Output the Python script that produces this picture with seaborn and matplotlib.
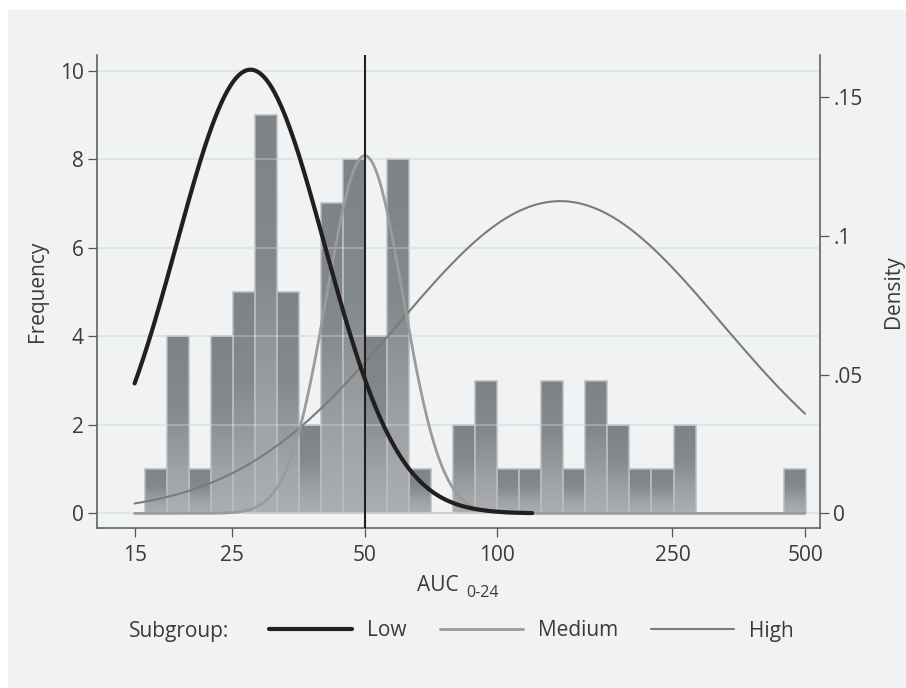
import numpy as np
import pandas as pd
import matplotlib
matplotlib.use("Agg")
import matplotlib.pyplot as plt
import seaborn as sns
from matplotlib.colors import LinearSegmentedColormap
from matplotlib.lines import Line2D
from matplotlib.patches import Rectangle

# ---- data -------------------------------------------------------------
# histogram of AUC(0-24): 30 equal-width bins on the log scale
bin_lo, bin_hi = 15.8, 502.0
counts = [1, 4, 1, 4, 5, 9, 5, 2, 7, 8, 4, 8, 1, 0, 2,
          3, 1, 1, 3, 1, 3, 2, 1, 1, 2, 0, 0, 0, 0, 1]

# fitted normal densities of log AUC per subgroup
subgroups = ["Low", "Medium", "High"]
centers = [27.5, 50.0, 139.0]          # geometric means
log_sd = [0.168, 0.087, 0.368]         # SD of log10(AUC)
peak_density = [0.160, 0.129, 0.1126]  # height of each curve
curve_from = [15, 15, 15]
curve_to = [120, 500, 500]

x_ticks = [15, 25, 50, 100, 250, 500]
freq_ticks = [0, 2, 4, 6, 8, 10]
dens_ticks = [0, 0.05, 0.10, 0.15]
dens_labels = ["0", ".05", ".1", ".15"]
cutoff = 50

# ---- style ------------------------------------------------------------
PANEL = "#f1f2f4"
TEXT = "#3a3a3a"
SPINE = "#555555"
line_colors = {"Low": "#231f20", "Medium": "#9b9b9b", "High": "#7b7b7b"}
line_widths = {"Low": 3.0, "Medium": 2.0, "High": 1.5}

sns.set_theme(style="white")
plt.rcParams["font.family"] = ["Open Sans", "DejaVu Sans"]
plt.rcParams["text.color"] = TEXT
plt.rcParams["axes.labelcolor"] = TEXT
plt.rcParams["xtick.color"] = SPINE
plt.rcParams["ytick.color"] = SPINE

W, H = 906, 688
fig = plt.figure(figsize=(W / 100, H / 100), dpi=100, facecolor="white")
fig.patches.append(Rectangle((8 / W, 0), 1 - 8 / W, 1 - 10 / H,
                             transform=fig.transFigure, facecolor=PANEL,
                             edgecolor="none", zorder=-10))

L, R, T, B = 97, 820, 55, 528
ax = fig.add_axes([L / W, 1 - B / H, (R - L) / W, (B - T) / H])
ax.set_facecolor(PANEL)
ax.set_xscale("log")

# ---- histogram bars with a vertical shade ------------------------------
edges = np.logspace(np.log10(bin_lo), np.log10(bin_hi), len(counts) + 1)
bars = ax.bar(edges[:-1], counts, width=np.diff(edges), align="edge",
              color="#979b9e", edgecolor="none", zorder=2)
shade = LinearSegmentedColormap.from_list(
    "shade", [(0.0, "#7d8386"), (0.4, "#83898c"), (0.75, "#9fa2a5"), (1.0, "#acafb2")])
grad = np.linspace(0, 1, 256).reshape(-1, 1)
for rect, h in zip(bars, counts):
    if h <= 0:
        continue
    x0 = rect.get_x()
    x1 = x0 + rect.get_width()
    im = ax.imshow(grad, cmap=shade, extent=(x0, x1, 0, h), origin="upper",
                   aspect="auto", interpolation="bilinear", zorder=2.1)
    im.set_clip_path(rect)
ax.bar(edges[:-1], counts, width=np.diff(edges), align="edge",
       fill=False, edgecolor="#b9bcbe", linewidth=1.1, zorder=2.2)

# grid lines (behind and faintly over the bars)
for y in freq_ticks:
    ax.axhline(y, color="#d9e3e6", lw=1.4, zorder=1)
    ax.axhline(y, color="#e4eaec", lw=1.1, alpha=0.4, zorder=2.3)

ax.set_xlim(12.32, 540.8)
ax.set_ylim(-0.33, 10.35)
ax.set_xticks(x_ticks)
ax.set_xticklabels([str(v) for v in x_ticks])
ax.xaxis.set_minor_locator(matplotlib.ticker.NullLocator())
ax.set_yticks(freq_ticks)
ax.set_yticklabels([str(v) for v in freq_ticks])
ax.tick_params(axis="both", direction="out", length=6.5, width=0.9,
               labelsize=15, labelcolor=TEXT, colors=SPINE)
ax.tick_params(axis="x", pad=6, bottom=True)
ax.tick_params(axis="y", pad=3, left=True)
for s in ["top", "right"]:
    ax.spines[s].set_visible(False)
for s in ["left", "bottom"]:
    ax.spines[s].set_color(SPINE)
    ax.spines[s].set_linewidth(1.1)

# ---- density curves on the right axis --------------------------------
ax2 = ax.twinx()
rows = []
for name, c, sd, pk, a, b in zip(subgroups, centers, log_sd, peak_density,
                                 curve_from, curve_to):
    xs = np.logspace(np.log10(a), np.log10(b), 400)
    z = (np.log10(xs) - np.log10(c)) / sd
    rows.append(pd.DataFrame({"AUC": xs, "Density": pk * np.exp(-0.5 * z ** 2),
                              "Subgroup": name}))
curves = pd.concat(rows, ignore_index=True)

for name, z in zip(["High", "Medium", "Low"], [3, 3.1, 3.2]):
    sns.lineplot(data=curves[curves["Subgroup"] == name], x="AUC", y="Density",
                 color=line_colors[name], linewidth=line_widths[name],
                 sort=False, errorbar=None, legend=False, ax=ax2, zorder=z)
ax2.axvline(cutoff, color="#231f20", lw=1.5, zorder=5)

ax2.set_ylim(-0.33 * 0.01597, 10.35 * 0.01597)
ax2.set_yticks(dens_ticks)
ax2.set_yticklabels(dens_labels)
ax2.tick_params(axis="y", direction="out", length=6.5, width=0.9, pad=3,
                labelsize=15, labelcolor=TEXT, colors=SPINE, right=True)
for s in ["top", "left", "bottom"]:
    ax2.spines[s].set_visible(False)
ax2.spines["right"].set_color(SPINE)
ax2.spines["right"].set_linewidth(1.1)
ax2.set_xlabel("")
ax2.set_ylabel("")
ax.set_xlabel("")
ax.set_ylabel("")
ax.set_xlim(12.32, 540.8)

# axis titles
mid_y = 1 - (T + B) / 2 / H
fig.text(38 / W, mid_y, "Frequency", fontsize=15, rotation=90,
         ha="center", va="center")
fig.text(893 / W, mid_y, "Density", fontsize=15, rotation=90,
         ha="center", va="center")
fig.text(417 / W, 1 - 591 / H, "AUC", fontsize=15, ha="left", va="baseline")
fig.text(466 / W, 1 - 597 / H, "0-24", fontsize=11.5, ha="left", va="baseline")

# ---- legend ----------------------------------------------------------
fig.text(129 / W, 1 - 632 / H, "Subgroup:", fontsize=15, ha="left", va="center")
handles = [Line2D([], [], color=line_colors[n], lw=line_widths[n]) for n in subgroups]
fig.legend(handles, subgroups, ncol=3, loc="center left",
           bbox_to_anchor=(269 / W, 1 - 631 / H), frameon=False, fontsize=15,
           handlelength=4.0, handletextpad=0.7, columnspacing=1.6,
           borderpad=0, borderaxespad=0, labelcolor=TEXT)

fig.savefig("out.png", dpi=100, facecolor="white")
